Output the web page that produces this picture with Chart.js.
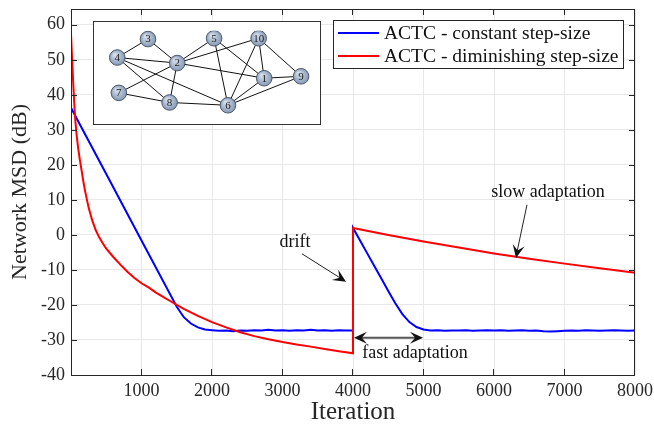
<!DOCTYPE html>
<html>
<head>
<meta charset="utf-8">
<script src="https://cdn.jsdelivr.net/npm/chart.js@4.4.0/dist/chart.umd.min.js"></script>
<style>
  html, body { margin: 0; padding: 0; background: #fff; }
  #wrap { position: relative; width: 654px; height: 427px; }
  #inset { position: absolute; left: 93px; top: 21px; width: 228px; height: 104px; background: #fff; border: 1px solid #333; box-sizing: border-box; }
  #inset canvas { display: block; }
</style>
</head>
<body>
<div id="wrap">
  <canvas id="chartMsd" width="654" height="427"></canvas>
  <div id="inset"><canvas id="chartNet" width="226" height="102"></canvas></div>
</div>
<script>
// series names
const seriesNames = ["ACTC - constant step-size", "ACTC - diminishing step-size"];

// constant step-size (blue)
const iterBlue = [0, 500, 1000, 1500, 1600, 1700, 1800, 1900, 2000, 2100, 2200, 2300, 2400, 2500, 2600, 2700, 2800, 2900, 3000,
  3100, 3200, 3300, 3400, 3500, 3600, 3700, 3800, 3900, 4000, 4000, 4100, 4200, 4300, 4400, 4500, 4600, 4700, 4800, 4900, 5000,
  5100, 5200, 5300, 5400, 5500, 5600, 5700, 5800, 5900, 6000, 6100, 6200, 6300, 6400, 6500, 6600, 6700, 6800, 6900, 7000,
  7100, 7200, 7300, 7400, 7500, 7600, 7700, 7800, 7900, 8000];
const msdBlue = [36.3, 17.4, -1.6, -20.5, -23.5, -25.3, -26.4, -27.0, -27.2, -27.4, -27.3, -27.5, -27.3, -27.4, -27.2, -27.3, -27.1, -27.3, -27.2,
  -27.4, -27.2, -27.3, -27.1, -27.3, -27.2, -27.4, -27.2, -27.3, -27.3, 2.0, -1.6, -5.2, -8.8, -12.4, -16.0, -19.5, -22.6, -24.9, -26.3, -27.0,
  -27.3, -27.2, -27.4, -27.3, -27.3, -27.2, -27.4, -27.3, -27.2, -27.3, -27.2, -27.4, -27.3, -27.2, -27.4, -27.3, -27.5, -27.6, -27.5, -27.4,
  -27.3, -27.4, -27.2, -27.3, -27.4, -27.3, -27.2, -27.3, -27.4, -27.3];

// diminishing step-size (red)
const iterRed = [0, 15, 30, 45, 60, 80, 100, 125, 150, 175, 200, 250, 300, 350, 400, 450, 500, 600, 700, 800, 900, 1000,
  1100, 1200, 1300, 1400, 1500, 1600, 1800, 2000, 2200, 2400, 2600, 2800, 3000, 3200, 3400, 3600, 3800, 4000,
  4000, 4500, 5000, 5500, 6000, 6500, 7000, 7500, 8000];
const msdRed = [57.5, 50.5, 44, 38, 33, 28.5, 25, 21.5, 18.4, 15.3, 12.5, 7.8, 4.2, 1.4, -0.7, -2.4, -3.9, -6.3, -8.5, -10.5, -12.3, -13.8,
  -15.0, -16.4, -17.6, -18.8, -20.0, -21.1, -23.1, -24.9, -26.4, -27.8, -28.9, -29.8, -30.6, -31.3, -31.9, -32.6, -33.2, -33.8,
  2.0, 0.0, -1.9, -3.6, -5.3, -6.8, -8.2, -9.5, -10.8];

const xTicks = [1000, 2000, 3000, 4000, 5000, 6000, 7000, 8000];
const yTicks = [-40, -30, -20, -10, 0, 10, 20, 30, 40, 50, 60];

// network inset
const nodeIds = [1, 2, 3, 4, 5, 6, 7, 8, 9, 10];
const nodeX = [17.5, 8.07, 4.9, 1.57, 12.07, 13.57, 1.74, 7.24, 21.5, 16.9];
const nodeY = [5.73, 3.9, 1.0, 3.23, 0.9, 9.0, 7.5, 8.66, 5.5, 0.9];
const edges = [[4, 3], [3, 2], [4, 2], [4, 8], [4, 6], [7, 2], [7, 8], [2, 8], [2, 5], [2, 10], [2, 1],
  [5, 6], [5, 1], [10, 6], [10, 1], [10, 9], [1, 9], [1, 6], [9, 6], [8, 6]];

const serif = "'Liberation Serif', 'Times New Roman', serif";
Chart.defaults.font.family = serif;
Chart.defaults.color = "#262626";

const toPoints = (xs, ys) => xs.map((v, i) => ({ x: v, y: ys[i] }));

const arrowHead = (ctx, x1, y1, x2, y2, len, half) => {
  const ang = Math.atan2(y2 - y1, x2 - x1);
  ctx.save();
  ctx.translate(x2, y2);
  ctx.rotate(ang);
  ctx.beginPath();
  ctx.moveTo(0, 0);
  ctx.lineTo(-len, -half);
  ctx.lineTo(-len * 0.6, 0);
  ctx.lineTo(-len, half);
  ctx.closePath();
  ctx.fill();
  ctx.restore();
};

const noPad = (s) => { s.paddingTop = 0; s.paddingBottom = 0; s.paddingLeft = 0; s.paddingRight = 0; };

const framePlugin = {
  id: "frame",
  afterDraw(chart) {
    const { ctx, chartArea: a, scales: { x, y } } = chart;
    ctx.save();
    ctx.strokeStyle = "#262626";
    ctx.lineWidth = 1;
    ctx.strokeRect(a.left + 0.5, a.top + 0.5, a.right - a.left - 1, a.bottom - a.top);
    ctx.beginPath();
    xTicks.forEach((v) => {
      const px = Math.round(x.getPixelForValue(v)) - 0.5;
      ctx.moveTo(px, a.bottom); ctx.lineTo(px, a.bottom - 6);
      ctx.moveTo(px, a.top); ctx.lineTo(px, a.top + 6);
    });
    yTicks.forEach((v) => {
      const py = Math.round(y.getPixelForValue(v)) + 0.5;
      ctx.moveTo(a.left, py); ctx.lineTo(a.left + 6, py);
      ctx.moveTo(a.right, py); ctx.lineTo(a.right - 6, py);
    });
    ctx.stroke();

    // annotations
    ctx.fillStyle = "#111";
    ctx.font = "18px " + serif;
    ctx.textAlign = "center";
    ctx.textBaseline = "middle";
    ctx.fillText("drift", x.getPixelForValue(3177), y.getPixelForValue(-2));
    ctx.fillText("slow adaptation", x.getPixelForValue(6766), y.getPixelForValue(12.3));
    ctx.fillText("fast adaptation", x.getPixelForValue(4879), y.getPixelForValue(-33.7));

    const seg = (x1, y1, x2, y2, color, w) => {
      ctx.strokeStyle = color; ctx.lineWidth = w;
      ctx.beginPath(); ctx.moveTo(x1, y1); ctx.lineTo(x2, y2); ctx.stroke();
    };
    // drift arrow
    let p1 = [x.getPixelForValue(3277), y.getPixelForValue(-5.4)];
    let p2 = [x.getPixelForValue(3901), y.getPixelForValue(-13.4)];
    seg(p1[0], p1[1], p2[0] - 6, p2[1] - 4, "#222", 1);
    arrowHead(ctx, p1[0], p1[1], p2[0], p2[1], 13, 6);
    // slow adaptation arrow
    p1 = [x.getPixelForValue(6468), y.getPixelForValue(8.6)];
    p2 = [x.getPixelForValue(6312), y.getPixelForValue(-6.6)];
    seg(p1[0], p1[1], p2[0] + 1, p2[1] - 6, "#222", 1);
    arrowHead(ctx, p1[0], p1[1], p2[0], p2[1], 13, 6);
    // fast adaptation double arrow
    p1 = [x.getPixelForValue(4014), y.getPixelForValue(-29.4)];
    p2 = [x.getPixelForValue(4993), y.getPixelForValue(-29.4)];
    seg(p1[0] + 6, p1[1], p2[0] - 6, p2[1], "#555", 2);
    arrowHead(ctx, p1[0], p1[1], p2[0], p2[1], 13, 6);
    arrowHead(ctx, p2[0], p2[1], p1[0], p1[1], 13, 6);

    // legend
    const lx = a.right - 302, ly = a.top + 11, lw = 290, lh = 48;
    ctx.fillStyle = "#fff";
    ctx.fillRect(lx, ly, lw, lh);
    ctx.strokeStyle = "#262626"; ctx.lineWidth = 1;
    ctx.strokeRect(lx + 0.5, ly + 0.5, lw, lh);
    ctx.textAlign = "left";
    ctx.font = "19.5px " + serif;
    chart.data.datasets.forEach((ds, i) => {
      const ry = ly + 13 + i * 23;
      ctx.strokeStyle = ds.borderColor; ctx.lineWidth = 2;
      ctx.beginPath(); ctx.moveTo(lx + 5, ry); ctx.lineTo(lx + 46, ry); ctx.stroke();
      ctx.fillStyle = "#111";
      ctx.fillText(ds.label, lx + 51, ry + 1);
    });
    ctx.restore();
  }
};

new Chart(document.getElementById("chartMsd").getContext("2d"), {
  type: "line",
  data: {
    datasets: [
      { label: seriesNames[0], data: toPoints(iterBlue, msdBlue), borderColor: "#0000ff", borderWidth: 2, order: 1 },
      { label: seriesNames[1], data: toPoints(iterRed, msdRed), borderColor: "#ff0000", borderWidth: 2, order: 0 }
    ]
  },
  options: {
    responsive: false,
    animation: false,
    events: [],
    elements: { point: { radius: 0 }, line: { tension: 0 } },
    layout: { padding: { top: 9, right: 19, left: 0, bottom: 0 } },
    plugins: { legend: { display: false }, tooltip: { enabled: false } },
    scales: {
      x: {
        type: "linear", min: 0, max: 8000,
        afterBuildTicks: (s) => { s.ticks = xTicks.map((v) => ({ value: v })); },
        afterFit: (s) => { s.height = 52; noPad(s); },
        grid: { color: "#e8e8e8", drawTicks: false },
        border: { display: false },
        ticks: { padding: 5, maxRotation: 0, autoSkip: false, font: { size: 18 }, callback: (v) => String(v) },
        title: { display: true, text: "Iteration", font: { size: 25 }, padding: { bottom: 0, top: 0 } }
      },
      y: {
        type: "linear", min: -40, max: 64.5,
        afterBuildTicks: (s) => { s.ticks = yTicks.map((v) => ({ value: v })); },
        afterFit: (s) => { s.width = 71; noPad(s); },
        grid: { color: "#e8e8e8", drawTicks: false },
        border: { display: false },
        ticks: { padding: 6, font: { size: 18 }, callback: (v) => String(v) },
        title: { display: true, text: "Network MSD (dB)", font: { size: 22 }, padding: { top: 7, bottom: 0 } }
      }
    }
  },
  plugins: [framePlugin]
});

// network inset
const edgePlugin = {
  id: "edges",
  beforeDatasetsDraw(chart) {
    const { ctx, scales: { x, y } } = chart;
    ctx.save();
    ctx.strokeStyle = "#111";
    ctx.lineWidth = 1;
    ctx.beginPath();
    edges.forEach(([p, q]) => {
      const i = nodeIds.indexOf(p), j = nodeIds.indexOf(q);
      ctx.moveTo(x.getPixelForValue(nodeX[i]), y.getPixelForValue(nodeY[i]));
      ctx.lineTo(x.getPixelForValue(nodeX[j]), y.getPixelForValue(nodeY[j]));
    });
    ctx.stroke();
    ctx.restore();
  },
  afterDatasetsDraw(chart) {
    const { ctx } = chart;
    const meta = chart.getDatasetMeta(0);
    ctx.save();
    ctx.fillStyle = "#1a1a1a";
    ctx.font = "11px " + serif;
    ctx.textAlign = "center";
    ctx.textBaseline = "middle";
    meta.data.forEach((pt, i) => {
      ctx.fillText(String(nodeIds[i]), pt.x, pt.y + 0.5);
    });
    ctx.restore();
  }
};

new Chart(document.getElementById("chartNet").getContext("2d"), {
  type: "scatter",
  data: {
    datasets: [{
      data: toPoints(nodeX, nodeY),
      pointRadius: 7.8,
      borderWidth: 1,
      borderColor: "#4d5a6b",
      backgroundColor: (c) => {
        const ch = c.chart;
        const fallback = "#9fb1ca";
        if (!c.parsed || !ch.scales || !ch.scales.x || !ch.scales.y) return fallback;
        const px = ch.scales.x.getPixelForValue(c.parsed.x);
        const py = ch.scales.y.getPixelForValue(c.parsed.y);
        if (!Number.isFinite(px) || !Number.isFinite(py)) return fallback;
        const g = ch.ctx.createRadialGradient(px - 2.5, py - 3, 1, px, py, 8);
        g.addColorStop(0, "#d4deeb");
        g.addColorStop(1, "#8497b3");
        return g;
      }
    }]
  },
  options: {
    responsive: false,
    animation: false,
    events: [],
    layout: { padding: 0 },
    plugins: { legend: { display: false }, tooltip: { enabled: false } },
    scales: {
      x: { type: "linear", min: 0, max: 22.6, display: false },
      y: { type: "linear", min: 0, max: 10.2, reverse: true, display: false }
    }
  },
  plugins: [edgePlugin]
});
</script>
</body>
</html>
